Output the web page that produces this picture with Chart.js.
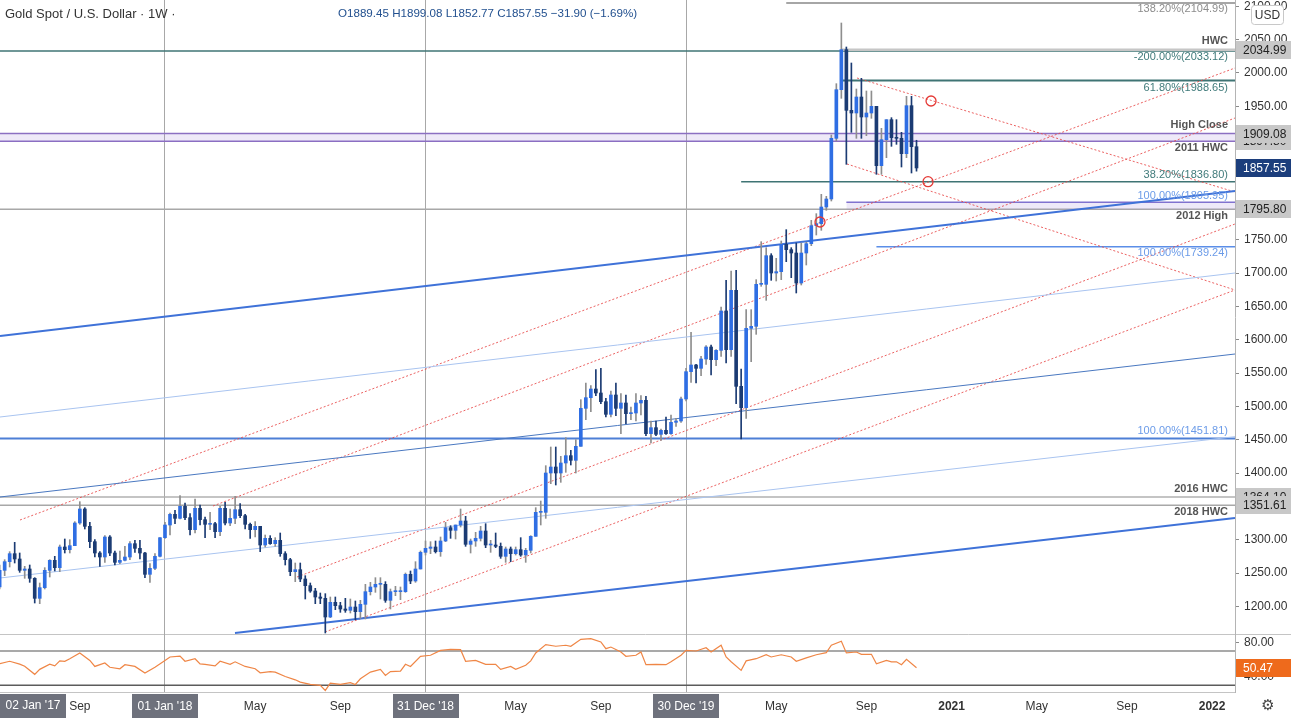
<!DOCTYPE html>
<html>
<head>
<meta charset="utf-8">
<script src="https://cdn.jsdelivr.net/npm/chart.js@4.4.1/dist/chart.umd.min.js"></script>
<style>
  html, body { margin: 0; padding: 0; background: #fff; overflow: hidden; }
  #wrap { position: relative; width: 1291px; height: 718px; }
  #main { position: absolute; left: 0; top: 0; }
  #rsi { position: absolute; left: 0; top: 634px; }
</style>
</head>
<body>
<div id="wrap">
  <canvas id="main" width="1291" height="634"></canvas>
  <canvas id="rsi" width="1291" height="84"></canvas>
</div>
<script>
// x values are weeks counted from the bar of 02 Jan 2017
const firstWeek = 19;
const opens = [
  1229,1254,1267,1279,1271,1254,1256,1242,1212,1228,
  1254,1269,1258,1289,1285,1291,1325,1346,1320,1297,
  1280,1274,1304,1280,1266,1269,1274,1294,1287,1280,
  1248,1257,1275,1303,1322,1338,1332,1350,1333,1315,
  1347,1330,1323,1324,1312,1347,1325,1332,1345,1336,
  1323,1315,1320,1292,1302,1294,1299,1279,1270,1252,
  1255,1241,1231,1223,1214,1212,1184,1206,1201,1196,
  1194,1199,1192,1203,1222,1229,1233,1233,1209,1222,
  1222,1222,1248,1238,1256,1281,1287,1289,1282,1298,
  1318,1314,1322,1328,1293,1298,1302,1313,1292,1292,
  1290,1275,1286,1279,1285,1277,1284,1305,1341,1341,
  1400,1409,1400,1415,1426,1419,1440,1497,1513,1526,
  1520,1507,1488,1517,1497,1505,1489,1490,1505,1509,
  1459,1468,1458,1464,1459,1476,1478,1511,1552,1562,
  1557,1571,1589,1570,1584,1643,1585,1674,1530,1498,
  1617,1620,1683,1683,1726,1700,1702,1743,1735,1730,
  1685,1730,1744,1771,1774,1799,1811,1902,1975,2035,
  1944,1940,1964,1934,1940,1950,1861,1900,1930,1903,
  1902,1879,1951,1889.45
];
const highs = [
  1262,1270,1282,1296,1280,1260,1262,1243,1235,1258,
  1270,1275,1292,1301,1300,1327,1357,1348,1326,1300,
  1282,1306,1306,1283,1283,1290,1297,1299,1299,1281,
  1264,1279,1303,1326,1340,1344,1366,1355,1339,1361,
  1352,1334,1341,1326,1350,1356,1346,1365,1354,1338,
  1325,1327,1320,1307,1306,1303,1310,1282,1272,1265,
  1265,1246,1235,1227,1220,1219,1214,1214,1206,1212,
  1211,1208,1209,1233,1236,1243,1243,1237,1226,1230,
  1229,1250,1253,1267,1283,1298,1297,1298,1304,1326,
  1321,1322,1346,1335,1301,1311,1320,1324,1299,1310,
  1295,1289,1289,1289,1303,1287,1306,1348,1358,1411,
  1439,1439,1425,1453,1434,1450,1510,1535,1531,1555,
  1557,1512,1523,1535,1519,1517,1499,1519,1516,1515,
  1478,1478,1466,1484,1487,1482,1514,1557,1611,1563,
  1575,1591,1592,1585,1649,1689,1703,1704,1556,1645,
  1645,1690,1747,1738,1729,1722,1748,1765,1738,1745,
  1745,1746,1779,1789,1818,1815,1907,1984,2075,2039,
  2015,1976,1992,1973,1973,1950,1917,1930,1933,1930,
  1911,1965,1965,1899.08
];
const lows = [
  1226,1246,1259,1265,1251,1242,1236,1205,1204,1226,
  1244,1253,1252,1280,1280,1291,1323,1316,1288,1274,
  1260,1266,1276,1262,1264,1268,1270,1281,1271,1243,
  1236,1255,1274,1302,1307,1324,1331,1330,1307,1310,
  1322,1303,1315,1303,1306,1322,1321,1324,1333,1316,
  1302,1304,1282,1289,1293,1290,1275,1262,1246,1237,
  1237,1211,1221,1204,1204,1160,1183,1195,1191,1191,
  1190,1180,1182,1181,1217,1221,1211,1206,1196,1216,
  1210,1221,1234,1236,1256,1277,1279,1280,1275,1297,
  1302,1301,1319,1290,1280,1290,1298,1288,1281,1288,
  1272,1266,1267,1277,1275,1266,1280,1305,1322,1332,
  1384,1382,1386,1401,1412,1400,1440,1480,1492,1516,
  1504,1484,1484,1486,1459,1474,1480,1478,1487,1456,
  1445,1456,1449,1458,1458,1470,1476,1508,1536,1535,
  1546,1563,1547,1561,1575,1565,1575,1504,1451,1482,
  1567,1608,1680,1659,1689,1688,1690,1717,1693,1670,
  1682,1712,1741,1757,1764,1794,1808,1898,1962,1863,
  1911,1902,1902,1906,1932,1848,1848,1873,1890,1893,
  1859,1873,1850,1852.77
];
const closes = [
  1254,1267,1279,1271,1254,1256,1242,1212,1228,1254,
  1269,1258,1289,1285,1291,1325,1346,1320,1297,1280,
  1274,1304,1280,1266,1269,1274,1294,1287,1280,1248,
  1257,1275,1303,1322,1338,1332,1350,1333,1315,1347,
  1330,1323,1324,1312,1347,1325,1332,1345,1336,1323,
  1315,1320,1292,1302,1294,1299,1279,1270,1252,1255,
  1241,1231,1223,1214,1212,1184,1206,1201,1196,1194,
  1199,1192,1203,1222,1229,1233,1233,1209,1222,1222,
  1222,1248,1238,1256,1281,1287,1289,1282,1298,1318,
  1314,1322,1328,1293,1298,1302,1313,1292,1292,1290,
  1275,1286,1279,1285,1277,1284,1305,1341,1341,1400,
  1409,1400,1415,1426,1419,1440,1497,1513,1526,1520,
  1507,1488,1517,1497,1505,1489,1490,1505,1509,1459,
  1468,1458,1464,1459,1476,1478,1511,1552,1562,1557,
  1571,1589,1570,1584,1643,1585,1674,1530,1498,1617,
  1620,1683,1683,1726,1700,1702,1743,1735,1730,1685,
  1730,1744,1771,1774,1799,1811,1902,1975,2035,1944,
  1940,1964,1934,1940,1950,1861,1900,1930,1903,1902,
  1879,1951,1889.45,1857.55
];

// RSI(14)
const rsiWeeks = [
  19,21,23,24,26,27,29,30,31,32, 33,35,37,38,40,41,43,44,46,48,
  50,52,53,55,56,58,59,60,62,63, 65,66,68,70,71,73,74,76,78,79,
  81,83,84,85,87,89,90,91,93,95, 96,97,99,100,101,103,105,107,109,111,
  112,114,116,118,119,121,122,124,125,126, 128,130,132,133,135,137,139,140,141,143,
  144,146,147,148,150,152,153,155,156,158, 160,161,163,164,165,167,168,170,172,173,
  175,177,178,180,182,184,185,187,188,190, 191,193,194,196,197,198,199,200,202
];
const rsiValues = [
  55.2,58,54.7,52.2,42.8,48.6,54.7,52.7,58.5,58, 61,67.7,59,52,56,51,49.3,54,52,44.3,
  51,59,63,64,58,61,55,54.5,52.7,58, 54.5,57.4,52,49.3,44.6,46,45.4,40.3,36.4,33.7,
  31,30,24,32.5,31,33,31,37.6,45.4,48.6, 41.5,46,46.6,54.5,52,63.8,65,70.7,71.9,71.5,
  58,59,54.5,54.5,48.6,52,48.6,53.3,58.5,67.7, 77.4,75.5,76.7,75.5,83.6,84.4,80.5,72.7,74.6,68.8,
  63.8,65,68.8,54,54.5,54,57.4,65,70.7,70, 73.8,68.8,76.7,63,57.4,47.4,58.5,61,65.6,63,
  65.6,63,58,62,65.6,68,76.7,81.3,67.7,68.8, 66.1,66.1,55,59,57.4,57.4,54,60.3,50.47
];
const rsiLevels = [70, 30];
const rsiTicks = [40, 80];

// horizontal levels and their captions
const levelPrices = [2104.99, 2034.99, 2033.12, 1988.65, 1909.08, 1897.80, 1836.80, 1805.95, 1795.80, 1739.24, 1451.81, 1364.10, 1351.61];
const levelFrom   = [176, 187, 19, 187, 19, 19, 167, 188, 19, 194, 19, 19, 19];
const levelNotes  = ['138.20%(2104.99)', 'HWC', '-200.00%(2033.12)', '61.80%(1988.65)', 'High Close', '2011 HWC',
                     '38.20%(1836.80)', '100.00%(1805.95)', '2012 High', '100.00%(1739.24)', '100.00%(1451.81)', '2016 HWC', '2018 HWC'];
const axisFlags = [2034.99, 1897.80, 1909.08, 1857.55, 1795.80, 1364.10, 1351.61];

// trend lines as [week0, price0, week1, price1]
const trendThick = [[19.07, 1605.5, 265.57, 1823], [65.97, 1160, 265.57, 1332.5]];
const trendMid = [[19.07, 1364, 265.57, 1578.5]];
const trendLight = [[19.07, 1484, 265.57, 1700], [19.07, 1242.5, 265.57, 1454.5]];
const channelRed = [
  [23.06, 1329.5, 265.57, 2007.5], [78.35, 1244, 265.57, 1773.5], [61.58, 1350.5, 265.57, 1932.5],
  [83.94, 1161.5, 265.57, 1674.5], [188.13, 1863.5, 265.57, 1674.5], [190.12, 1992.5, 265.57, 1821.5]
];
const touchWeeks = [182.74, 204.3, 204.9];
const touchPrices = [1776.5, 1837, 1958];

const priceTicks = [1200,1250,1300,1350,1400,1450,1500,1550,1600,1650,1700,1750,1800,1850,1900,1950,2000,2050,2100];
const yearWeeks = [52, 104, 156];
const timeWeeks = [35, 52, 70, 87, 104, 122, 139, 156, 174, 192, 209, 226, 244, 261];
const timeLabels = ['Sep', "01 Jan '18", 'May', 'Sep', "31 Dec '18", 'May', 'Sep', "30 Dec '19", 'May', 'Sep', '2021', 'May', 'Sep', '2022'];

const X_MIN = 19.07, X_MAX = 265.57;
const PRICE_MIN = 1158.5, PRICE_MAX = 2109.5;
const FONT = "'Liberation Sans', Arial, sans-serif";
Chart.defaults.font.family = FONT;

const UP = '#2f6ee3', DOWN = '#1b3b73';
const levelStyle = [
  { line: '#a6a6a6', w: 2,   text: '#8c8c8c', dy: 6 },
  { line: '#c6c6c6', w: 2.5, text: '#555', dy: -9, bold: true },
  { line: '#3f7474', w: 1.5, text: '#3f7a7a', dy: 6 },
  { line: '#3f7474', w: 2,   text: '#3f7a7a', dy: 7 },
  { line: '#8b6fc2', w: 1.5, text: '#555', dy: -9, bold: true, fillTo: 1897.80 },
  { line: '#8b6fc2', w: 1.5, text: '#555', dy: 7, bold: true },
  { line: '#3f7474', w: 1.5, text: '#3f7a7a', dy: -7 },
  { line: '#8072cf', w: 1.5, text: '#6b9be8', dy: -6, fillTo: 1795.80 },
  { line: '#a8a8a8', w: 1.5, text: '#555', dy: 7, bold: true },
  { line: '#5b8ee8', w: 1.5, text: '#6b9be8', dy: 6 },
  { line: '#4d7fd6', w: 2,   text: '#6b9be8', dy: -7.5 },
  { line: '#b0b0b0', w: 1.5, text: '#555', dy: -8, bold: true },
  { line: '#a8a8a8', w: 1.5, text: '#555', dy: 7, bold: true }
];

const weeks = opens.map((o, i) => firstWeek + i);
const isUp = closes.map((c, i) => c >= opens[i]);

function seg(x0, y0, x1, y1) { return [{ x: x0, y: y0 }, { x: x1, y: y1 }]; }
function lineSet(data, color, width, dash, order) {
  return { type: 'line', data, borderColor: color, borderWidth: width, borderDash: dash || [],
           pointRadius: 0, fill: false, order, tension: 0 };
}
// no extra padding around the plot: axes sit flush with the canvas edges
function flush(s) { s.paddingTop = 0; s.paddingBottom = 0; s.paddingLeft = 0; s.paddingRight = 0; }

const datasets = [];
levelPrices.forEach((p, i) => {
  const st = levelStyle[i];
  const ds = lineSet(seg(levelFrom[i], p, X_MAX, p), st.line, st.w, null, 5);
  if (st.fillTo) { ds.fill = { value: st.fillTo }; ds.backgroundColor = 'rgba(150,120,210,0.16)'; }
  datasets.push(ds);
});
trendThick.forEach(t => datasets.push(lineSet(seg(...t), '#3f72d8', 2, null, 4)));
trendMid.forEach(t => datasets.push(lineSet(seg(...t), '#4a78c0', 1, null, 4)));
trendLight.forEach(t => datasets.push(lineSet(seg(...t), '#a9c4f0', 1, null, 4)));
channelRed.forEach(t => datasets.push(lineSet(seg(...t), 'rgba(232,70,70,0.85)', 1, [2, 2], 4)));
datasets.push({
  type: 'bar', order: 2, grouped: false, barThickness: 1,
  data: weeks.map((w, i) => ({ x: w, y: [lows[i], highs[i]] })),
  backgroundColor: isUp.map(u => u ? '#8e8e8e' : DOWN)
});
datasets.push({
  type: 'bar', order: 1, grouped: false, barThickness: 3, minBarLength: 1,
  data: weeks.map((w, i) => ({ x: w, y: [opens[i], closes[i]] })),
  backgroundColor: isUp.map(u => u ? UP : DOWN)
});
datasets.push({
  type: 'line', order: 0, showLine: false,
  data: touchWeeks.map((w, i) => ({ x: w, y: touchPrices[i] })),
  pointRadius: 5, pointBorderWidth: 1.3, pointBorderColor: '#e53935', pointBackgroundColor: 'rgba(0,0,0,0)'
});

const last = closes.length - 1;
const mainNotes = {
  id: 'mainNotes',
  afterDraw(chart) {
    const { ctx, chartArea: ca, scales: { y } } = chart;
    ctx.save();
    ctx.textBaseline = 'middle';
    levelPrices.forEach((p, i) => {
      const st = levelStyle[i];
      ctx.font = (st.bold ? 'bold ' : '') + '11px ' + FONT;
      ctx.fillStyle = st.text;
      ctx.textAlign = 'right';
      ctx.fillText(levelNotes[i], ca.right - 7, y.getPixelForValue(p) + st.dy);
    });
    axisFlags.forEach(p => {
      const py = Math.round(y.getPixelForValue(p));
      const isLast = p === closes[last];
      ctx.fillStyle = isLast ? '#1c3e7c' : '#c8c8c8';
      ctx.fillRect(ca.right + 1, py - 9, chart.width - ca.right - 1, 18);
      ctx.fillStyle = isLast ? '#fff' : '#222';
      ctx.font = '12px ' + FONT;
      ctx.textAlign = 'left';
      ctx.fillText(p.toFixed(2), ca.right + 8, py + 1);
    });
    // currency badge
    ctx.fillStyle = '#fff';
    ctx.strokeStyle = '#c8c8c8';
    ctx.lineWidth = 1;
    ctx.beginPath();
    ctx.roundRect(1251.5, 5.5, 32, 19, 3);
    ctx.fill(); ctx.stroke();
    ctx.fillStyle = '#333';
    ctx.textAlign = 'center';
    ctx.font = '12px ' + FONT;
    ctx.fillText('USD', 1267.5, 15.5);
    // legend line
    ctx.textAlign = 'left';
    ctx.font = '13px ' + FONT;
    ctx.fillStyle = '#333';
    ctx.fillText('Gold Spot / U.S. Dollar \u00b7 1W \u00b7', 5, 14);
    const chg = closes[last] - closes[last - 1];
    const pct = chg / closes[last - 1] * 100;
    const sgn = v => (v < 0 ? '\u2212' : '+') + Math.abs(v).toFixed(2);
    const txt = 'O' + opens[last].toFixed(2) + ' H' + highs[last].toFixed(2) + ' L' + lows[last].toFixed(2) +
                ' C' + closes[last].toFixed(2) + ' ' + sgn(chg) + ' (' + sgn(pct) + '%)';
    ctx.font = '11.6px ' + FONT;
    ctx.fillStyle = '#22508f';
    ctx.fillText(txt, 338, 14);
    ctx.restore();
  }
};

new Chart(document.getElementById('main'), {
  type: 'bar',
  data: { datasets },
  options: {
    responsive: false,
    animation: false,
    layout: { padding: 0, autoPadding: false },
    plugins: { legend: { display: false }, tooltip: { enabled: false } },
    scales: {
      x: {
        type: 'linear', min: X_MIN, max: X_MAX, offset: false,
        grid: { offset: false, drawTicks: false, color: '#a8a8a8', lineWidth: 1 },
        border: { display: false },
        ticks: { display: false },
        afterBuildTicks: s => { s.ticks = yearWeeks.map(v => ({ value: v })); },
        afterFit: s => { s.height = 0; flush(s); }
      },
      y: {
        type: 'linear', position: 'right', min: PRICE_MIN, max: PRICE_MAX,
        grid: { drawOnChartArea: false, drawTicks: true, tickLength: 4, color: '#8a8a8a' },
        border: { display: true, color: '#b4b4b4' },
        ticks: {
          color: '#333', font: { size: 12 }, padding: 5,
          callback: v => axisFlags.some(f => Math.abs(f - v) < 10) ? '' : v.toFixed(2)
        },
        afterBuildTicks: s => { s.ticks = priceTicks.map(v => ({ value: v })); },
        afterFit: s => { s.width = 56; flush(s); }
      }
    }
  },
  plugins: [mainNotes]
});

const boxedWeeks = [52, 104, 156];
const boldWeeks = [209, 261];
const rsiDecor = {
  id: 'rsiDecor',
  beforeDraw(chart) {
    const { ctx, chartArea: ca, scales: { x } } = chart;
    ctx.save();
    ctx.fillStyle = '#6e717c';
    boxedWeeks.forEach(w => {
      const px = x.getPixelForValue(w);
      ctx.fillRect(Math.round(px - 33), ca.bottom + 2, 66, chart.height - ca.bottom - 2);
    });
    ctx.fillRect(0, ca.bottom + 2, 66, chart.height - ca.bottom - 2);
    ctx.strokeStyle = '#c4c4c4';
    ctx.lineWidth = 1;
    ctx.beginPath();
    ctx.moveTo(0, 0.5); ctx.lineTo(chart.width, 0.5);
    ctx.stroke();
    ctx.restore();
  },
  afterDraw(chart) {
    const { ctx, chartArea: ca, scales: { y } } = chart;
    ctx.save();
    ctx.font = '12px ' + FONT;
    ctx.textBaseline = 'middle';
    ctx.fillStyle = '#fff';
    ctx.textAlign = 'center';
    ctx.fillText("02 Jan '17", 33, ca.bottom + 14);
    const v = rsiValues[rsiValues.length - 1];
    const py = Math.round(y.getPixelForValue(v));
    ctx.fillStyle = '#ee6a1c';
    ctx.fillRect(ca.right + 1, py - 9, chart.width - ca.right - 1, 18);
    ctx.fillStyle = '#fff';
    ctx.textAlign = 'left';
    ctx.fillText(v.toFixed(2), ca.right + 8, py + 1);
    ctx.fillStyle = '#444';
    ctx.textAlign = 'center';
    ctx.font = '15px DejaVu Sans';
    ctx.fillText('\u2699', 1268, ca.bottom + 14);
    ctx.restore();
  }
};

new Chart(document.getElementById('rsi'), {
  type: 'line',
  data: {
    datasets: [
      lineSet(seg(X_MIN, rsiLevels[0], X_MAX, rsiLevels[0]), '#8d8d8d', 1.5, null, 2),
      lineSet(seg(X_MIN, rsiLevels[1], X_MAX, rsiLevels[1]), '#5c5c5c', 1.5, null, 2),
      lineSet(rsiWeeks.map((w, i) => ({ x: w, y: rsiValues[i] })), '#ef8646', 1.2, null, 1)
    ]
  },
  options: {
    responsive: false,
    animation: false,
    layout: { padding: 0, autoPadding: false },
    plugins: { legend: { display: false }, tooltip: { enabled: false } },
    scales: {
      x: {
        type: 'linear', min: X_MIN, max: X_MAX, position: 'bottom',
        grid: { drawTicks: false, color: c => (c.tick && yearWeeks.includes(c.tick.value)) ? '#a8a8a8' : 'rgba(0,0,0,0)' },
        border: { display: true, color: '#c4c4c4' },
        ticks: {
          autoSkip: false, maxRotation: 0, padding: 7,
          color: c => (c.tick && boxedWeeks.includes(c.tick.value)) ? '#fff' : '#333',
          font: c => ({ size: 12, weight: (c.tick && boldWeeks.includes(c.tick.value)) ? 'bold' : 'normal' }),
          callback: v => timeLabels[timeWeeks.indexOf(v)]
        },
        afterBuildTicks: s => { s.ticks = timeWeeks.map(v => ({ value: v })); },
        afterFit: s => { s.height = 26; flush(s); }
      },
      y: {
        type: 'linear', position: 'right', min: 22.2, max: 89.8,
        grid: { drawOnChartArea: false, drawTicks: true, tickLength: 4, color: '#8a8a8a' },
        border: { display: true, color: '#b4b4b4' },
        ticks: { color: '#333', font: { size: 12 }, padding: 5, callback: v => v.toFixed(2) },
        afterBuildTicks: s => { s.ticks = rsiTicks.map(v => ({ value: v })); },
        afterFit: s => { s.width = 56; flush(s); }
      }
    }
  },
  plugins: [rsiDecor]
});
</script>
</body>
</html>
